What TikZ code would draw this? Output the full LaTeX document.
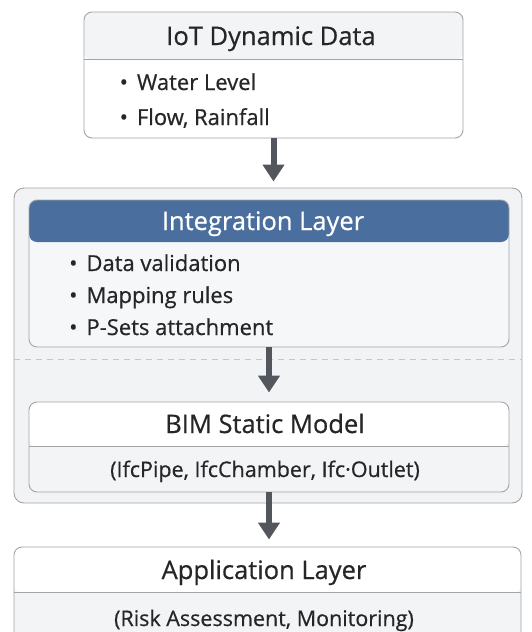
\documentclass[tikz,border=0pt]{standalone}
\usepackage{fontspec}
\setmainfont{Open Sans}[FakeBold=0.6]
\usetikzlibrary{arrows.meta}

\definecolor{rimgray}{HTML}{A2A4A8}
\definecolor{headgray}{HTML}{F3F4F6}
\definecolor{panelgray}{HTML}{F2F3F4}
\definecolor{bodygray}{HTML}{F6F7F9}
\definecolor{layerblue}{HTML}{4A6E9E}
\definecolor{arrowgray}{HTML}{53575D}
\definecolor{inkgray}{HTML}{262626}
\definecolor{sepgray}{HTML}{C4C6C9}

\begin{document}
\begin{tikzpicture}[x=1pt, y=-1pt,
    card/.style = {draw=rimgray, line width=0.9pt, rounded corners=8pt, fill=white, inner sep=0pt},
    headed/.style 2 args = {path picture={\fill[#1] (path picture bounding box.north west) rectangle ([yshift=-#2]path picture bounding box.north east);}},
    title/.style = {font=\fontsize{25.5}{30}\selectfont, text=inkgray, anchor=base, inner sep=0pt},
    item/.style = {font=\fontsize{22}{26}\selectfont, text=inkgray, anchor=base west, inner sep=0pt},
    note/.style = {font=\fontsize{21.5}{26}\selectfont, text=inkgray, anchor=base, inner sep=0pt},
    rule/.style = {draw=rimgray, line width=0.9pt},
    flow/.style = {line width=6pt, draw=arrowgray, -{Triangle[width=21pt, length=17pt]}}]

    \useasboundingbox[fill=white] (0,0) rectangle (532,632);

    % containers
    \node[card, fill=panelgray, rounded corners=10pt, minimum width=508pt, minimum height=315pt] (core) at (268,345.5) {};
    \node[card, headed={headgray}{48pt}, minimum width=379pt, minimum height=126pt] (iot) at (273.5,75) {};
    \node[card, fill=bodygray, headed={layerblue}{42pt}, minimum width=480pt, minimum height=147pt] (integ) at (269,273.5) {};
    \node[card, fill=headgray, headed={white}{45pt}, minimum width=480pt, minimum height=90pt] (bim) at (269,447) {};
    \node[card, fill=headgray, headed={white}{46pt}, minimum width=507pt, minimum height=100pt] (app) at (267.5,597) {};

    % header rules
    \draw[rule] ([yshift=-48pt]iot.north west) -- ([yshift=-48pt]iot.north east);
    \draw[rule] ([yshift=-45pt]bim.north west) -- ([yshift=-45pt]bim.north east);
    \draw[rule] ([yshift=-46pt]app.north west) -- ([yshift=-46pt]app.north east);
    \coordinate (sep) at (0,359);
    \draw[sepgray, line width=0.9pt, dash pattern=on 6pt off 5pt] (core.west |- sep) -- (core.east |- sep);

    % texts
    \node[title] (iottitle) at (271,45) {IoT Dynamic Data};
    \node[item] (water) at (119.5,90) {•\hspace{9pt}Water Level};
    \node[item] (flow) at (119.5,125) {•\hspace{9pt}Flow, Rainfall};

    \node[title, text=white] (integtitle) at (263,230) {Integration Layer};
    \node[item] (valid) at (69,271) {•\hspace{9pt}Data validation};
    \node[item] (mapping) at (69,303) {•\hspace{9pt}Mapping rules};
    \node[item] (psets) at (69,335) {•\hspace{9pt}P-Sets attachment};

    \node[title] (bimtitle) at (265,433) {BIM Static Model};
    \node[note] (bimnote) at (265,477) {(IfcPipe, IfcChamber, Ifc·Outlet)};

    \node[title] (apptitle) at (264,579) {Application Layer};
    \node[note] (appnote) at (264,626) {(Risk Assessment, Monitoring)};

    % arrows
    \draw[flow, shorten >=6pt] (iot.south) -- (iot.south |- core.north);
    \draw[flow, shorten >=9pt] (integ.south) -- (integ.south |- bim.north);
    \draw[flow, shorten >=7pt] (bim.south) -- (bim.south |- app.north);

\end{tikzpicture}
\end{document}
